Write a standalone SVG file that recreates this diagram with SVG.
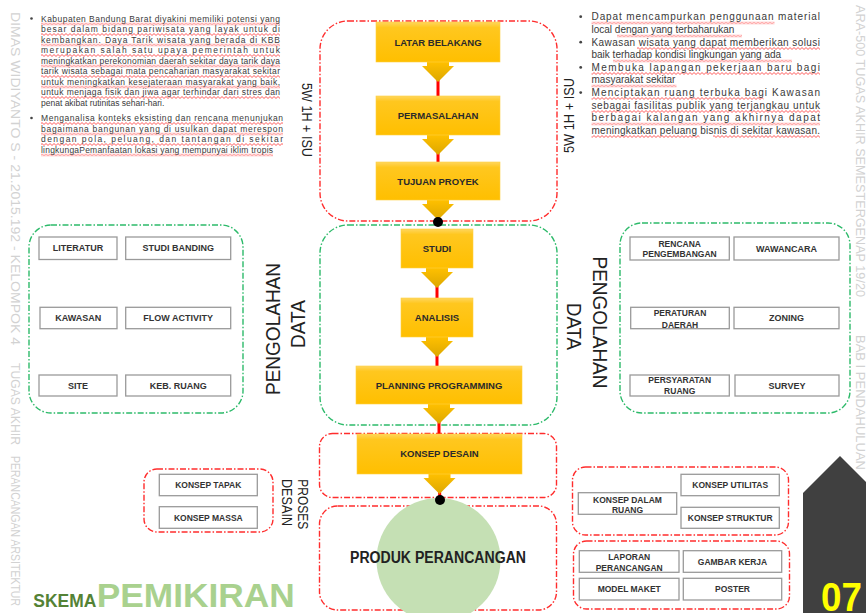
<svg xmlns="http://www.w3.org/2000/svg" width="866" height="613" viewBox="0 0 866 613">
<defs>
<linearGradient id="yg" x1="0" y1="0" x2="0" y2="1">
<stop offset="0" stop-color="#ffd65e"/><stop offset="0.14" stop-color="#ffc71f"/><stop offset="1" stop-color="#ffbf00"/>
</linearGradient>
<linearGradient id="ag" x1="0" y1="0" x2="0" y2="1">
<stop offset="0" stop-color="#ffc000"/><stop offset="1" stop-color="#dca700"/>
</linearGradient>
<pattern id="sqp" patternUnits="userSpaceOnUse" x="0" y="0" width="4" height="3">
<path d="M-1,1.5 L0,2.5 L2,0.5 L4,2.5 L5,1.5" fill="none" stroke="#ff2a2a" stroke-width="0.8"/>
</pattern>
<path id="arr" d="M-11,0 H11 V4 H16 L0,20 L-16,4 H-11 Z"/>
</defs>
<style>
text{font-family:"Liberation Sans",Arial,sans-serif}
.side{fill:#d2d2d2;font-size:13px}
.body{fill:#3a3a3a;font-size:8.5px}
.bodyr{fill:#3a3a3a;font-size:10px}
.sq{fill:url(#sqp)}
.red{fill:none;stroke:#ff2d2d;stroke-width:1.4;stroke-dasharray:6 2 1.5 2}
.grn{fill:none;stroke:#2dba6a;stroke-width:1.4;stroke-dasharray:6 2 1.5 2}
.gb{fill:#fff;stroke:#9a9a9a;stroke-width:1.3}
.gt{fill:#333;font-size:9px;font-weight:bold;text-anchor:middle}
.gt2{fill:#333;font-size:8.5px;font-weight:bold;text-anchor:middle}
.yb{fill:url(#yg);stroke:#ffcf40;stroke-width:0.6}
.yt{fill:#2a2a2a;font-size:9.5px;font-weight:bold;text-anchor:middle}
.ya{fill:url(#ag)}
.big{fill:#222;font-size:21px}
.lab{fill:#222;font-size:14px}
.rl{stroke:#ff0000;stroke-width:3}
</style>

<!-- side texts -->
<g id="side-left" class="side">
<text transform="translate(10.5,12) rotate(90)" textLength="333" lengthAdjust="spacingAndGlyphs">DIMAS WIDIYANTO S - 21.2015.192 - KELOMPOK 4</text>
<text transform="translate(10.5,363) rotate(90)" textLength="82" lengthAdjust="spacingAndGlyphs">TUGAS AKHIR</text>
<text transform="translate(10.5,456) rotate(90)" textLength="150" lengthAdjust="spacingAndGlyphs">PERANCANGAN ARSITEKTUR</text>
</g>
<g id="side-right" class="side">
<text transform="translate(855.5,5) rotate(90)" textLength="292" lengthAdjust="spacingAndGlyphs">ARA-500 TUGAS AKHIR SEMESTERGENAP 19/20</text>
<text transform="translate(855.5,335) rotate(90)" textLength="135" lengthAdjust="spacingAndGlyphs">BAB I PENDAHULUAN</text>
</g>

<!-- top-left text -->
<g id="text-left" class="body">
<g class="sq">
<rect transform="translate(0,22.5)" x="41" width="239" height="3"/>
<rect transform="translate(0,33)" x="41" width="239" height="3"/>
<rect transform="translate(0,43.5)" x="41" width="239" height="3"/>
<rect transform="translate(0,54)" x="41" width="239" height="3"/>
<rect transform="translate(0,64.5)" x="41" width="239" height="3"/>
<rect transform="translate(0,75)" x="41" width="239" height="3"/>
<rect transform="translate(0,85.5)" x="41" width="239" height="3"/>
<rect transform="translate(0,96)" x="41" width="239" height="3"/>
<rect transform="translate(0,122)" x="41" width="242" height="3"/>
<rect transform="translate(0,132.5)" x="41" width="242" height="3"/>
<rect transform="translate(0,143)" x="41" width="242" height="3"/>
<rect transform="translate(0,153.5)" x="41" width="232" height="3"/>
</g>
<circle cx="31.5" cy="18.5" r="1.3" fill="#444"/>
<circle cx="31.5" cy="118" r="1.3" fill="#444"/>
<text x="41" y="21.5" textLength="239" lengthAdjust="spacing">Kabupaten Bandung Barat diyakini memiliki potensi yang</text>
<text x="41" y="32" textLength="239" lengthAdjust="spacing">besar dalam bidang pariwisata yang layak untuk di</text>
<text x="41" y="42.5" textLength="239" lengthAdjust="spacing">kembangkan. Daya Tarik wisata yang berada di KBB</text>
<text x="41" y="53" textLength="239" lengthAdjust="spacing">merupakan salah satu upaya pemerintah untuk</text>
<text x="41" y="63.5" textLength="239" lengthAdjust="spacing">meningkatkan perekonomian daerah sekitar daya tarik daya</text>
<text x="41" y="74" textLength="239" lengthAdjust="spacing">tarik wisata sebagai mata pencaharian masyarakat sekitar</text>
<text x="41" y="84.5" textLength="239" lengthAdjust="spacing">untuk meningkatkan kesejateraan masyarakat yang baik,</text>
<text x="41" y="95" textLength="239" lengthAdjust="spacing">untuk menjaga fisik dan jiwa agar terhindar dari stres dan</text>
<text x="41" y="105.5">penat akibat rutinitas sehari-hari.</text>
<text x="41" y="121" textLength="242" lengthAdjust="spacing">Menganalisa konteks eksisting dan rencana menunjukan</text>
<text x="41" y="131.5" textLength="242" lengthAdjust="spacing">bagaimana bangunan yang di usulkan dapat merespon</text>
<text x="41" y="142" textLength="242" lengthAdjust="spacing">dengan pola, peluang, dan tantangan di sekitar</text>
<text x="41" y="152.5" textLength="232" lengthAdjust="spacing">lingkungaPemanfaatan lokasi yang mempunyai iklim tropis</text>
</g>

<!-- top-right text -->
<g id="text-right" class="bodyr">
<g class="sq">
<rect transform="translate(0,21.5)" x="591.5" width="183" height="3"/>
<rect transform="translate(0,34.5)" x="617" width="125" height="3"/>
<rect transform="translate(0,47)" x="637" width="183" height="3"/>
<rect transform="translate(0,59.5)" x="613" width="179" height="3"/>
<rect transform="translate(0,72)" x="591.5" width="228.5" height="3"/>
<rect transform="translate(0,84.5)" x="591.5" width="85" height="3"/>
<rect transform="translate(0,97)" x="591.5" width="172" height="3"/>
<rect transform="translate(0,110)" x="591.5" width="228.5" height="3"/>
<rect transform="translate(0,122.5)" x="591.5" width="228.5" height="3"/>
<rect transform="translate(0,135)" x="591.5" width="108" height="3"/>
<rect transform="translate(0,135)" x="713" width="107" height="3"/>
</g>
<circle cx="580.7" cy="16.7" r="1.4" fill="#444"/>
<circle cx="580.7" cy="42.2" r="1.4" fill="#444"/>
<circle cx="580.7" cy="67.4" r="1.4" fill="#444"/>
<circle cx="580.7" cy="92.6" r="1.4" fill="#444"/>
<text x="591.5" y="20" textLength="228.5" lengthAdjust="spacing">Dapat mencampurkan penggunaan material</text>
<text x="591.5" y="33">local dengan yang terbaharukan</text>
<text x="591.5" y="45.5" textLength="228.5" lengthAdjust="spacing">Kawasan wisata yang dapat memberikan solusi</text>
<text x="591.5" y="58">baik terhadap kondisi lingkungan yang ada</text>
<text x="591.5" y="70.5" textLength="228.5" lengthAdjust="spacing">Membuka lapangan pekerjaan baru bagi</text>
<text x="591.5" y="83">masyarakat sekitar</text>
<text x="591.5" y="95.5" textLength="228.5" lengthAdjust="spacing">Menciptakan ruang terbuka bagi Kawasan</text>
<text x="591.5" y="108.5" textLength="228.5" lengthAdjust="spacing">sebagai fasilitas publik yang terjangkau untuk</text>
<text x="591.5" y="121" textLength="228.5" lengthAdjust="spacing">berbagai kalangan yang akhirnya dapat</text>
<text x="591.5" y="133.5" textLength="228.5" lengthAdjust="spacing">meningkatkan peluang bisnis di sekitar kawasan.</text>
</g>

<!-- group frames -->
<g id="frames">
<rect class="red" x="320" y="21" width="237" height="200" rx="28"/>
<rect class="grn" x="320" y="225" width="237" height="200" rx="28"/>
<rect class="grn" x="29" y="225" width="214" height="188" rx="22"/>
<rect class="grn" x="620" y="223" width="230" height="190" rx="22"/>
<rect class="red" x="319.5" y="433.5" width="237" height="64" rx="13"/>
<rect class="red" x="319.5" y="506" width="237" height="104" rx="18"/>
<rect class="red" x="144" y="469" width="129" height="63" rx="13"/>
<rect class="red" x="572.5" y="467" width="216" height="68" rx="13"/>
<rect class="red" x="573.5" y="541" width="216" height="68" rx="13"/>
</g>

<!-- labels -->
<g id="labels">
<text class="lab" transform="translate(301.5,83) rotate(90)" textLength="74" lengthAdjust="spacingAndGlyphs">5W 1H + ISU</text>
<text class="lab" transform="translate(573.5,153) rotate(-90)" textLength="75" lengthAdjust="spacingAndGlyphs">5W 1H + ISU</text>
<text class="big" transform="translate(279.5,329) rotate(-90)" text-anchor="middle" textLength="132" lengthAdjust="spacingAndGlyphs">PENGOLAHAN</text>
<text class="big" transform="translate(305,324) rotate(-90)" text-anchor="middle" textLength="48" lengthAdjust="spacingAndGlyphs">DATA</text>
<text class="big" transform="translate(593.3,322.5) rotate(90)" text-anchor="middle" textLength="132" lengthAdjust="spacingAndGlyphs">PENGOLAHAN</text>
<text class="big" transform="translate(566.7,326.5) rotate(90)" text-anchor="middle" textLength="47" lengthAdjust="spacingAndGlyphs">DATA</text>
<text class="lab" font-size="15" transform="translate(297.5,479.3) rotate(90)" textLength="50" lengthAdjust="spacingAndGlyphs">PROSES</text>
<text class="lab" font-size="15" transform="translate(281.5,479) rotate(90)" textLength="47" lengthAdjust="spacingAndGlyphs">DESAIN</text>
</g>

<!-- connectors -->
<g id="connectors">
<line class="rl" x1="438" y1="78" x2="438" y2="96"/>
<line class="rl" x1="438" y1="151" x2="438" y2="162"/>
<line class="rl" x1="438" y1="216" x2="438" y2="222"/>
<line class="rl" x1="437" y1="284" x2="437" y2="298"/>
<line class="rl" x1="437" y1="353" x2="437" y2="366"/>
<line class="rl" x1="439" y1="420" x2="439" y2="434"/>
<line class="rl" x1="439.5" y1="490" x2="440" y2="500"/>
<use href="#arr" class="ya" x="438" y="62"/>
<use href="#arr" class="ya" x="438" y="135"/>
<use href="#arr" class="ya" x="438" y="200"/>
<use href="#arr" class="ya" x="437" y="268"/>
<use href="#arr" class="ya" x="437" y="337"/>
<use href="#arr" class="ya" x="439" y="404"/>
<use href="#arr" class="ya" x="439.5" y="474"/>
<circle cx="438" cy="222" r="5" fill="#000"/>
</g>

<!-- flow nodes -->
<g id="n-latar"><rect class="yb" x="376" y="22" width="124" height="40"/><text class="yt" x="438" y="45.5">LATAR BELAKANG</text></g>
<g id="n-permasalahan"><rect class="yb" x="376" y="96" width="124" height="39"/><text class="yt" x="438" y="119">PERMASALAHAN</text></g>
<g id="n-tujuan"><rect class="yb" x="376" y="162" width="124" height="38"/><text class="yt" x="438" y="184.5">TUJUAN PROYEK</text></g>
<g id="n-studi"><rect class="yb" x="401" y="229" width="72" height="39"/><text class="yt" x="437" y="252">STUDI</text></g>
<g id="n-analisis"><rect class="yb" x="401" y="298" width="72" height="39"/><text class="yt" x="437" y="321">ANALISIS</text></g>
<g id="n-planning"><rect class="yb" x="356" y="366" width="166" height="38"/><text class="yt" x="439" y="388.5">PLANNING PROGRAMMING</text></g>
<g id="n-konsep"><rect class="yb" x="357" y="434" width="165" height="40"/><text class="yt" x="439.5" y="457">KONSEP DESAIN</text></g>
<g id="n-produk">
<circle cx="438.5" cy="560" r="62" fill="#c5e0b4"/>
<text x="438" y="563" text-anchor="middle" font-size="16" font-weight="bold" fill="#222" textLength="176" lengthAdjust="spacingAndGlyphs">PRODUK PERANCANGAN</text>
</g>
<circle cx="440" cy="500" r="5" fill="#000"/>

<!-- left data boxes -->
<g id="n-literatur"><rect class="gb" x="39" y="237" width="78" height="22.5"/><text class="gt" x="78" y="251.2">LITERATUR</text></g>
<g id="n-studibanding"><rect class="gb" x="125.7" y="237" width="105" height="22.5"/><text class="gt" x="178.2" y="251.2">STUDI BANDING</text></g>
<g id="n-kawasan"><rect class="gb" x="40" y="307.3" width="77" height="21.4"/><text class="gt" x="78.3" y="321.2">KAWASAN</text></g>
<g id="n-flow"><rect class="gb" x="125.7" y="307.3" width="105" height="21.4"/><text class="gt" x="178.2" y="321.2">FLOW ACTIVITY</text></g>
<g id="n-site"><rect class="gb" x="39" y="375" width="78" height="21"/><text class="gt" x="78" y="388.7">SITE</text></g>
<g id="n-kebruang"><rect class="gb" x="125.7" y="375" width="105" height="21"/><text class="gt" x="178.2" y="388.7">KEB. RUANG</text></g>

<!-- right data boxes -->
<g id="n-rencana"><rect class="gb" x="630" y="237" width="99.3" height="23"/><text class="gt2" x="679.7" y="246.5">RENCANA</text><text class="gt2" x="679.7" y="257">PENGEMBANGAN</text></g>
<g id="n-wawancara"><rect class="gb" x="734" y="237" width="105" height="23"/><text class="gt" x="786.5" y="251.5">WAWANCARA</text></g>
<g id="n-peraturan"><rect class="gb" x="630.7" y="307.3" width="98.6" height="21.4"/><text class="gt2" x="680" y="315.8">PERATURAN</text><text class="gt2" x="680" y="327.5">DAERAH</text></g>
<g id="n-zoning"><rect class="gb" x="734" y="307.3" width="105" height="21.4"/><text class="gt" x="786.5" y="321.2">ZONING</text></g>
<g id="n-persyaratan"><rect class="gb" x="630" y="375" width="99.3" height="21"/><text class="gt2" x="679.7" y="383.2">PERSYARATAN</text><text class="gt2" x="679.7" y="394.2">RUANG</text></g>
<g id="n-survey"><rect class="gb" x="735" y="375" width="104" height="21"/><text class="gt" x="787" y="388.7">SURVEY</text></g>

<!-- proses desain boxes -->
<g id="n-tapak"><rect class="gb" x="159.3" y="474.3" width="98" height="21.4"/><text class="gt2" x="208.3" y="488.2">KONSEP TAPAK</text></g>
<g id="n-massa"><rect class="gb" x="159.3" y="506.7" width="98" height="21.6"/><text class="gt2" x="208.3" y="520.7">KONSEP MASSA</text></g>
<g id="n-dalamruang"><rect class="gb" x="578.3" y="492.7" width="98.4" height="21.6"/><text class="gt2" x="627.5" y="502.5">KONSEP DALAM</text><text class="gt2" x="627.5" y="513.2">RUANG</text></g>
<g id="n-utilitas"><rect class="gb" x="681" y="474.3" width="98.3" height="21.4"/><text class="gt2" x="730.2" y="488.2">KONSEP UTILITAS</text></g>
<g id="n-struktur"><rect class="gb" x="681" y="507.3" width="98.3" height="21"/><text class="gt2" x="730.2" y="521">KONSEP STRUKTUR</text></g>
<g id="n-laporan"><rect class="gb" x="579.3" y="550.7" width="99.7" height="21.6"/><text class="gt2" x="629.2" y="559.9">LAPORAN</text><text class="gt2" x="629.2" y="570.5">PERANCANGAN</text></g>
<g id="n-gambar"><rect class="gb" x="683.3" y="550.7" width="98.4" height="21.6"/><text class="gt2" x="732.5" y="564.7">GAMBAR KERJA</text></g>
<g id="n-maket"><rect class="gb" x="579.3" y="578.3" width="99.7" height="21.7"/><text class="gt2" x="629.2" y="592.4">MODEL MAKET</text></g>
<g id="n-poster"><rect class="gb" x="683.3" y="578.3" width="98.4" height="21.7"/><text class="gt2" x="732.5" y="592.4">POSTER</text></g>

<!-- title and page tag -->
<g id="title">
<text x="33.3" y="606.7" font-size="18.5" font-weight="bold" fill="#548235" textLength="63" lengthAdjust="spacingAndGlyphs">SKEMA</text>
<text x="96.7" y="607" font-size="33" font-weight="bold" fill="#a9d18e" textLength="198" lengthAdjust="spacingAndGlyphs">PEMIKIRAN</text>
</g>
<g id="page-tag">
<polygon points="803,613 803,493 840,456 877,493 877,613" fill="#404040"/>
<text x="821" y="611" font-size="40" font-weight="bold" fill="#ffff00" textLength="41" lengthAdjust="spacingAndGlyphs">07</text>
</g>
</svg>
